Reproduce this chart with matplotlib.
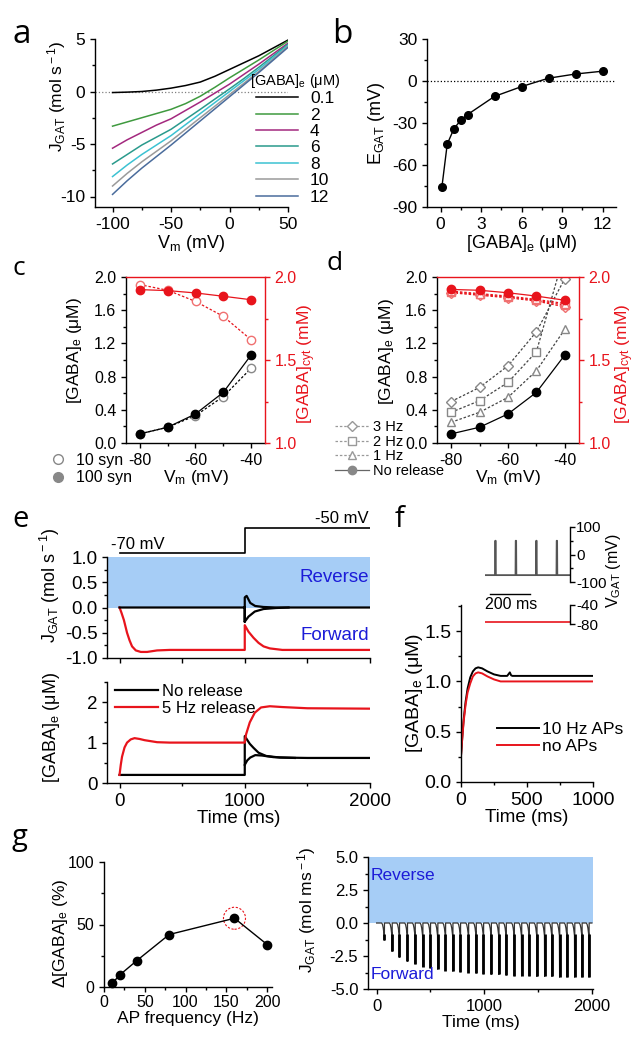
import matplotlib
matplotlib.use("Agg")
import matplotlib.pyplot as plt
from matplotlib.ticker import MultipleLocator, FormatStrFormatter
from matplotlib.lines import Line2D
from matplotlib.patches import Ellipse

plt.rcParams['font.family'] = ['Liberation Sans', 'DejaVu Sans']
plt.rcParams['mathtext.fontset'] = 'custom'
plt.rcParams['mathtext.rm'] = 'Liberation Sans'
plt.rcParams['mathtext.it'] = 'Liberation Sans:italic'
plt.rcParams['axes.unicode_minus'] = False
plt.rcParams['axes.linewidth'] = 1.0
plt.rcParams['xtick.major.width'] = 1.0
plt.rcParams['ytick.major.width'] = 1.0
plt.rcParams['xtick.minor.width'] = 1.0
plt.rcParams['ytick.minor.width'] = 1.0
plt.rcParams['xtick.major.size'] = 3.5
plt.rcParams['ytick.major.size'] = 3.5
plt.rcParams['xtick.minor.size'] = 2
plt.rcParams['ytick.minor.size'] = 2

# ---- panel a: J_GAT vs Vm for several [GABA]e
a_vm = [-100, -87.5, -75, -62.5, -50, -37.5, -25, -12.5, 0, 12.5, 25, 37.5, 50]
a_conc = ['0.1', '2', '4', '6', '8', '10', '12']
a_j01 = [-0.1, -0.06, 0.0, 0.13, 0.32, 0.57, 0.9, 1.45, 2.1, 2.75, 3.4, 4.15, 4.9]
a_j2 = [-3.3, -2.9, -2.5, -2.1, -1.7, -1.15, -0.45, 0.4, 1.3, 2.15, 3.0, 3.9, 4.8]
a_j4 = [-5.4, -4.6, -3.9, -3.2, -2.6, -1.8, -1.0, -0.15, 0.7, 1.65, 2.6, 3.6, 4.6]
a_j6 = [-6.9, -6.0, -5.1, -4.35, -3.6, -2.65, -1.7, -0.72, 0.25, 1.25, 2.3, 3.4, 4.5]
a_j8 = [-8.1, -7.0, -6.0, -5.1, -4.2, -3.15, -2.1, -1.05, 0.0, 1.05, 2.1, 3.25, 4.4]
a_j10 = [-9.0, -7.8, -6.7, -5.7, -4.7, -3.6, -2.5, -1.4, -0.3, 0.8, 1.9, 3.1, 4.3]
a_j12 = [-9.8, -8.5, -7.3, -6.2, -5.1, -3.95, -2.8, -1.65, -0.5, 0.65, 1.8, 3.0, 4.2]
a_colors = ['black', '#3f9a3f', '#a3287e', '#2a9a8c', '#3cc2d2', '#9a9a9a', '#4a6c9c']

# ---- panel b: E_GAT vs [GABA]e
b_gaba = [0.1, 0.5, 1, 1.5, 2, 4, 6, 8, 10, 12]
b_egat = [-76, -45, -34, -28, -24, -11, -4, 2, 5, 7]

# ---- panel c
c_vm = [-80, -70, -60, -50, -40]
c_e_100 = [0.11, 0.19, 0.35, 0.61, 1.06]
c_e_10 = [0.11, 0.19, 0.33, 0.56, 0.90]
c_cyt_100 = [1.924, 1.918, 1.904, 1.884, 1.863]
c_cyt_10 = [1.954, 1.92, 1.853, 1.763, 1.622]

# ---- panel d
d_vm = [-80, -70, -60, -50, -40]
d_e_none = [0.11, 0.19, 0.35, 0.61, 1.06]
d_e_1hz = [0.25, 0.37, 0.55, 0.87, 1.37]
d_e_2hz = [0.37, 0.51, 0.73, 1.10, 2.3]
d_e_3hz = [0.50, 0.67, 0.93, 1.34, 1.98]
d_cyt_none = [1.925, 1.92, 1.905, 1.885, 1.86]
d_cyt_1hz = [1.915, 1.90, 1.885, 1.865, 1.84]
d_cyt_2hz = [1.91, 1.895, 1.88, 1.86, 1.83]
d_cyt_3hz = [1.905, 1.89, 1.875, 1.855, 1.82]

# ---- panel e
e_step_t = [0, 1000, 1000, 2000]
e_step_v = [-70, -70, -50, -50]
e_jred_t = [0, 15, 35, 60, 80, 100, 130, 170, 220, 300, 400, 1000, 1000, 1030, 1070, 1110, 1150, 1200, 1300, 2000]
e_jred = [0, -0.1, -0.25, -0.5, -0.65, -0.77, -0.85, -0.88, -0.88, -0.85, -0.84, -0.84, -0.35, -0.48, -0.6, -0.7, -0.77, -0.81, -0.84, -0.84]
e_jblk_t = [0, 1000, 1000, 1000, 1015, 1044, 1083, 1150, 1250, 2000]
e_jblk = [0, 0, -0.28, 0.2, 0.23, 0.09, 0.03, 0.01, 0, 0]
e_jblk2_t = [1000, 1030, 1080, 1150, 1250, 1350]
e_jblk2 = [-0.28, -0.18, -0.08, -0.03, -0.01, 0]
e_gred_t = [0, 10, 20, 40, 60, 90, 120, 160, 200, 300, 400, 1000, 1010, 1040, 1080, 1130, 1200, 1300, 1500, 2000]
e_gred = [0.2, 0.45, 0.65, 0.88, 1.0, 1.08, 1.11, 1.09, 1.06, 1.01, 1.0, 1.0, 1.2, 1.5, 1.74, 1.87, 1.9, 1.88, 1.85, 1.84]
e_gblk_t = [0, 1000, 1000, 1040, 1070, 1110, 1170, 1280, 1500, 2000]
e_gblk = [0.2, 0.2, 1.16, 0.97, 0.87, 0.75, 0.67, 0.63, 0.62, 0.62]
e_gblk2_t = [1000, 1020, 1044, 1084, 1137, 1229, 1400]
e_gblk2 = [0.45, 0.56, 0.63, 0.69, 0.68, 0.64, 0.62]

# ---- panel f
f_spike_t = [50, 150, 250, 350]
f_rest_v = -75
f_peak_v = 50
f_noap_v = -76
f_t = [0, 10, 20, 35, 50, 70, 90, 110, 130, 160, 200, 250, 300, 350, 370, 380, 390, 420, 1000]
f_ap = [0.26, 0.45, 0.62, 0.8, 0.93, 1.04, 1.10, 1.13, 1.14, 1.13, 1.10, 1.07, 1.055, 1.055, 1.09, 1.06, 1.055, 1.055, 1.055]
f_t2 = [0, 10, 20, 35, 50, 70, 90, 110, 130, 160, 200, 250, 300, 400, 1000]
f_noap = [0.26, 0.44, 0.6, 0.77, 0.89, 0.98, 1.05, 1.08, 1.09, 1.08, 1.05, 1.02, 1.0, 1.0, 1.0]

# ---- panel g
g_freq = [10, 20, 40, 80, 160, 200]
g_delta = [3, 10, 21, 42, 55, 34]
g_pulse_t = [71, 143, 211, 285, 357, 428, 499, 567, 639, 707, 778, 853, 924, 992,
             1064, 1135, 1203, 1278, 1346, 1417, 1488, 1560, 1628, 1699, 1768, 1839, 1907, 1972]
g_pulse_amp = [1.3, 2.15, 2.6, 2.9, 3.1, 3.3, 3.4, 3.5, 3.6, 3.65, 3.7, 3.75, 3.8, 3.85,
               3.9, 3.9, 3.95, 4.0, 4.0, 4.0, 4.05, 4.05, 4.05, 4.1, 4.1, 4.1, 4.1, 4.1]
g_hook_dt = [-24, -16, -9, -4, -1]
g_hook_v = [0, -0.12, -0.4, -0.75, -0.95]

W, H = 640, 1049
fig = plt.figure(figsize=(W / 100, H / 100), dpi=100)


def px_axes(l, t, r, b):
    return fig.add_axes([l / W, 1 - b / H, (r - l) / W, (b - t) / H])


def letter(x, y, s, size):
    fig.text(x / W, 1 - y / H, s, fontsize=size, family=['Open Sans', 'DejaVu Sans'], va='baseline')


def clean(ax, fs):
    ax.spines['top'].set_visible(False)
    ax.spines['right'].set_visible(False)
    ax.tick_params(which='both', direction='out', labelsize=fs)


BLUE_FILL = '#a6cdf6'
BLUE_TXT = '#1c1cd8'
RED = '#e8141c'
GEL = r'[GABA]$_{\rm e}$ ($\mathrm{\mu}$M)'

# ================= a
ax = px_axes(95, 39, 288, 207)
clean(ax, 12.5)
ax.axhline(0, color='gray', lw=0.9, ls=':')
for ys, c, lab in zip([a_j01, a_j2, a_j4, a_j6, a_j8, a_j10, a_j12], a_colors, a_conc):
    ax.plot(a_vm, ys, color=c, lw=1.1, label=lab)
ax.set_xlim(-115, 50)
ax.set_ylim(-11, 5)
ax.xaxis.set_major_locator(MultipleLocator(50))
ax.xaxis.set_minor_locator(MultipleLocator(25))
ax.yaxis.set_major_locator(MultipleLocator(5))
ax.yaxis.set_minor_locator(MultipleLocator(2.5))
ax.set_xlabel(r'V$_{\rm m}$ (mV)', fontsize=13, labelpad=1)
ax.set_ylabel(r'J$_{\rm GAT}$ (mol s$^{\rm -1}$)', fontsize=12.5)
ax.yaxis.set_label_coords(-0.14, 0.66)
ax.legend(loc='upper left', bbox_to_anchor=(250 / W, 1 - 72 / H), bbox_transform=fig.transFigure,
          frameon=False, fontsize=12.5, title=GEL, title_fontsize=10.5,
          handlelength=2.4, handletextpad=0.7, labelspacing=0.07, borderpad=0, borderaxespad=0)
letter(12, 43, 'a', 24)

# ================= b
ax = px_axes(427, 39, 616, 207)
clean(ax, 12.5)
ax.axhline(0, color='black', lw=0.9, ls=':')
ax.plot(b_gaba, b_egat, color='black', lw=1.0, marker='o', ms=5.5)
ax.set_xlim(-1, 13)
ax.set_ylim(-90, 30)
ax.xaxis.set_major_locator(MultipleLocator(3))
ax.xaxis.set_minor_locator(MultipleLocator(1.5))
ax.yaxis.set_major_locator(MultipleLocator(30))
ax.yaxis.set_minor_locator(MultipleLocator(15))
ax.set_xlabel(GEL, fontsize=13, labelpad=1)
ax.set_ylabel(r'E$_{\rm GAT}$ (mV)', fontsize=13)
ax.yaxis.set_label_coords(-0.21, 0.5)
letter(332, 43, 'b', 24)


def twin_panel(l, t, r, b, lx, rx, ly):
    ax = px_axes(l, t, r, b)
    ax2 = ax.twinx()
    ax.spines['top'].set_visible(False)
    ax.spines['right'].set_visible(False)
    ax2.spines['left'].set_visible(False)
    ax2.spines['bottom'].set_visible(False)
    ax2.spines['right'].set_color(RED)
    ax2.spines['top'].set_color(RED)
    ax.tick_params(which='both', direction='out', labelsize=11.5)
    ax2.tick_params(which='both', direction='out', labelsize=11.5, colors=RED)
    ax.set_xlim(-85, -35)
    ax.set_ylim(0, 2.0)
    ax2.set_ylim(1.0, 2.0)
    ax.xaxis.set_major_locator(MultipleLocator(20))
    ax.xaxis.set_minor_locator(MultipleLocator(10))
    ax.yaxis.set_major_locator(MultipleLocator(0.4))
    ax.yaxis.set_minor_locator(MultipleLocator(0.2))
    ax2.yaxis.set_major_locator(MultipleLocator(0.5))
    ax2.yaxis.set_minor_locator(MultipleLocator(0.25))
    ax.set_xlabel(r'V$_{\rm m}$ (mV)', fontsize=12.5, labelpad=0)
    ax.set_ylabel(GEL, fontsize=12.5)
    ax.yaxis.set_label_coords(lx, ly)
    ax2.set_ylabel(r'[GABA]$_{\rm cyt}$ (mM)', fontsize=12.5, color=RED)
    ax2.yaxis.set_label_coords(rx, 0.48)
    return ax, ax2


# ================= c
ax, ax2 = twin_panel(126, 277, 265, 443, -0.30, 1.22, 0.56)
ax.plot(c_vm, c_e_10, color='black', lw=0.9, ls=(0, (2, 1.5)), marker='o', ms=6, mfc='white', mec='#888888', clip_on=False, zorder=3)
ax.plot(c_vm, c_e_100, color='black', lw=0.9, marker='o', ms=6, clip_on=False, zorder=4)
ax2.plot(c_vm, c_cyt_10, color=RED, lw=0.9, ls=(0, (2, 1.5)), marker='o', ms=6, mfc='white', mec='#f07070', clip_on=False)
ax2.plot(c_vm, c_cyt_100, color=RED, lw=0.9, marker='o', ms=6, clip_on=False)
hc = [Line2D([], [], ls='none', marker='o', ms=7, mfc='white', mec='#888888'),
      Line2D([], [], ls='none', marker='o', ms=7, mfc='#888888', mec='#888888')]
fig.legend(hc, ['10 syn', '100 syn'], loc='upper left', bbox_to_anchor=(50 / W, 1 - 453 / H), frameon=False,
           fontsize=11.5, handlelength=1.0, handletextpad=0.6, labelspacing=0.15, borderpad=0, borderaxespad=0)
letter(12, 275, 'c', 19)

# ================= d
ax, ax2 = twin_panel(437, 277, 579, 443, -0.29, 1.245, 0.55)
dash = (0, (2, 1.5))
for ys, m in zip([d_e_3hz, d_e_2hz, d_e_1hz], ['D', 's', '^']):
    ax.plot(d_vm, ys, color='#444444', lw=0.9, ls=dash, marker=m, ms=5.5, mfc='white', mec='#888888', zorder=3)
ax.plot(d_vm, d_e_none, color='black', lw=0.9, marker='o', ms=6, clip_on=False, zorder=4)
for ys, m in zip([d_cyt_3hz, d_cyt_2hz, d_cyt_1hz], ['D', 's', '^']):
    ax2.plot(d_vm, ys, color=RED, lw=0.9, ls=dash, marker=m, ms=5.5, mfc='white', mec='#f07070')
ax2.plot(d_vm, d_cyt_none, color=RED, lw=0.9, marker='o', ms=6)
hd = [Line2D([], [], color='#999999', lw=0.9, ls=dash, marker='D', ms=5.5, mfc='white', mec='#999999'),
      Line2D([], [], color='#999999', lw=0.9, ls=dash, marker='s', ms=5.5, mfc='white', mec='#999999'),
      Line2D([], [], color='#999999', lw=0.9, ls=dash, marker='^', ms=5.5, mfc='white', mec='#999999'),
      Line2D([], [], color='#666666', lw=0.9, marker='o', ms=6, mfc='#888888', mec='#888888')]
fig.legend(hd, ['3 Hz', '2 Hz', '1 Hz', 'No release'], loc='upper left', bbox_to_anchor=(335 / W, 1 - 420 / H),
           frameon=False, fontsize=10.5, handlelength=2.3, handletextpad=0.3, labelspacing=0.05,
           borderpad=0, borderaxespad=0)
letter(327, 270, 'd', 19)

# ================= e
axs = px_axes(107, 525, 370, 556)
axs.plot(e_step_t, e_step_v, color='black', lw=1.2)
axs.set_xlim(-100, 2000)
axs.set_ylim(-72, -48)
axs.axis('off')
axs.text(-70, -69, '-70 mV', fontsize=12, va='bottom', ha='left')
axs.text(1990, -49, '-50 mV', fontsize=12, va='bottom', ha='right')

ax = px_axes(107, 557, 370, 658)
clean(ax, 13.5)
ax.axhspan(0, 1, color=BLUE_FILL, lw=0)
ax.plot(e_jred_t, e_jred, color=RED, lw=1.6)
ax.plot(e_jblk2_t, e_jblk2, color='black', lw=1.6)
ax.plot(e_jblk_t, e_jblk, color='black', lw=1.6)
ax.set_xlim(-100, 2000)
ax.set_ylim(-1, 1)
ax.xaxis.set_major_locator(MultipleLocator(500))
ax.yaxis.set_major_locator(MultipleLocator(0.5))
ax.yaxis.set_minor_locator(MultipleLocator(0.25))
ax.set_xticklabels([])
ax.set_ylabel(r'J$_{\rm GAT}$ (mol s$^{\rm -1}$)', fontsize=13)
ax.yaxis.set_label_coords(-0.17, 0.72)
ax.text(1990, 0.6, 'Reverse', color=BLUE_TXT, fontsize=13.5, ha='right', va='center')
ax.text(1990, -0.55, 'Forward', color=BLUE_TXT, fontsize=13.5, ha='right', va='center')

ax = px_axes(107, 682, 370, 783)
clean(ax, 13.5)
ax.plot(e_gblk_t, e_gblk, color='black', lw=1.6, label='No release')
ax.plot(e_gblk2_t, e_gblk2, color='black', lw=1.6)
ax.plot(e_gred_t, e_gred, color=RED, lw=1.6, label='5 Hz release')
ax.set_xlim(-100, 2000)
ax.set_ylim(0, 2.5)
ax.xaxis.set_major_locator(MultipleLocator(1000))
ax.xaxis.set_minor_locator(MultipleLocator(500))
ax.yaxis.set_major_locator(MultipleLocator(1))
ax.yaxis.set_minor_locator(MultipleLocator(0.5))
ax.set_xlabel('Time (ms)', fontsize=13.5)
ax.xaxis.set_label_coords(0.5, -0.27)
ax.set_ylabel(GEL, fontsize=13)
ax.yaxis.set_label_coords(-0.17, 0.55)
ax.legend(loc='upper left', bbox_to_anchor=(115 / W, 1 - 684 / H), bbox_transform=fig.transFigure,
          frameon=False, fontsize=12, handlelength=2.6, handletextpad=0.2, labelspacing=0.1,
          borderpad=0, borderaxespad=0)
letter(12, 527, 'e', 21)

# ================= f
axv = px_axes(485, 527, 570, 582)
vt, vv = [0], [f_rest_v]
for s in f_spike_t:
    vt += [s - 1, s, s + 2, s + 3]
    vv += [f_rest_v, f_peak_v, f_peak_v, f_rest_v]
vt.append(415)
vv.append(f_rest_v)
axv.plot(vt, vv, color='#555555', lw=1.3)
axv.set_xlim(0, 415)
axv.set_ylim(-100, 100)
for s in ['top', 'left', 'bottom']:
    axv.spines[s].set_visible(False)
axv.set_xticks([])
axv.yaxis.tick_right()
axv.yaxis.set_label_position('right')
axv.yaxis.set_major_locator(MultipleLocator(100))
axv.yaxis.set_minor_locator(MultipleLocator(50))
axv.tick_params(which='both', direction='out', labelsize=11, pad=1)
axv.set_ylabel(r'V$_{\rm GAT}$ (mV)', fontsize=11.5)
axv.yaxis.set_label_coords(1.4, 0.2)
axv.plot([25, 220], [-145, -145], color='black', lw=1.0, clip_on=False)
axv.text(0, -155, '200 ms', fontsize=11.5, va='top', ha='left')

axr = px_axes(485, 605, 570, 624)
axr.plot([0, 415], [f_noap_v, f_noap_v], color=RED, lw=1.2)
axr.set_xlim(0, 415)
axr.set_ylim(-80, -40)
axr.patch.set_visible(False)
for s in ['top', 'left', 'bottom']:
    axr.spines[s].set_visible(False)
axr.set_xticks([])
axr.yaxis.tick_right()
axr.set_yticks([-80, -40])
axr.tick_params(direction='out', labelsize=11, pad=1)

ax = px_axes(461, 605, 593, 782)
ax.patch.set_visible(False)
clean(ax, 14)
ax.plot(f_t, f_ap, color='black', lw=1.4, label='10 Hz APs')
ax.plot(f_t2, f_noap, color=RED, lw=1.4, label='no APs')
ax.set_xlim(0, 1000)
ax.set_ylim(0, 1.76)
ax.xaxis.set_major_locator(MultipleLocator(500))
ax.xaxis.set_minor_locator(MultipleLocator(250))
ax.yaxis.set_major_locator(MultipleLocator(0.5))
ax.yaxis.set_minor_locator(MultipleLocator(0.25))
ax.set_xlabel('Time (ms)', fontsize=13.5)
ax.xaxis.set_label_coords(0.5, -0.155)
ax.set_ylabel(GEL, fontsize=14)
ax.yaxis.set_label_coords(-0.27, 0.5)
ax.legend(loc='upper left', bbox_to_anchor=(497 / W, 1 - 722 / H), bbox_transform=fig.transFigure,
          frameon=False, fontsize=12.5, handlelength=2.4, handletextpad=0.2, labelspacing=0.1,
          borderpad=0, borderaxespad=0)
letter(395, 527, 'f', 21)

# ================= g left
ax = px_axes(104, 862, 272, 987)
clean(ax, 11.5)
ax.tick_params(axis='x', which='both', pad=2)
ax.plot(g_freq, g_delta, color='black', lw=1.0, marker='o', ms=6, clip_on=False, zorder=3)
ax.add_patch(Ellipse((160, 55), 27, 17.6, fill=False, ec=RED, ls=(0, (2, 1.5)), lw=0.8))
ax.set_xlim(0, 206)
ax.set_ylim(0, 100)
ax.xaxis.set_major_locator(MultipleLocator(50))
ax.xaxis.set_minor_locator(MultipleLocator(25))
ax.yaxis.set_major_locator(MultipleLocator(50))
ax.yaxis.set_minor_locator(MultipleLocator(25))
ax.set_xlabel('AP frequency (Hz)', fontsize=12.5)
ax.xaxis.set_label_coords(0.5, -0.19)
ax.set_ylabel(r'$\Delta$[GABA]$_{\rm e}$ (%)', fontsize=12.5)
ax.yaxis.set_label_coords(-0.2, 0.43)
letter(12, 845, 'g', 21)

# ================= g right
ax = px_axes(368, 857, 593, 989)
clean(ax, 12)
ax.axhspan(0, 5, color=BLUE_FILL, lw=0)
gt, gv = [0], [0]
for t0, a in zip(g_pulse_t, g_pulse_amp):
    gt += [t0 + d for d in g_hook_dt]
    gv += list(g_hook_v)
    gt += [t0, t0 + 1, t0 + 2]
    gv += [-a, -a, 0]
gt.append(2000)
gv.append(0)
ax.plot(gt, gv, color='#333333', lw=0.9)
ax.vlines(g_pulse_t, [-a for a in g_pulse_amp], -0.8, color='black', lw=2.0)
ax.set_xlim(-80, 2010)
ax.set_ylim(-5, 5)
ax.xaxis.set_major_locator(MultipleLocator(1000))
ax.xaxis.set_minor_locator(MultipleLocator(500))
ax.yaxis.set_major_locator(MultipleLocator(2.5))
ax.yaxis.set_minor_locator(MultipleLocator(1.25))
ax.yaxis.set_major_formatter(FormatStrFormatter('%.1f'))
ax.text(-60, 3.6, 'Reverse', color=BLUE_TXT, fontsize=12.5, ha='left', va='center')
ax.text(-60, -3.9, 'Forward', color=BLUE_TXT, fontsize=12.5, ha='left', va='center')
ax.set_xlabel('Time (ms)', fontsize=12.5)
ax.xaxis.set_label_coords(0.5, -0.2)
ax.set_ylabel(r'J$_{\rm GAT}$ (mol ms$^{\rm -1}$)', fontsize=12.5)
ax.yaxis.set_label_coords(-0.22, 0.6)

fig.savefig('out.png', dpi=100)
